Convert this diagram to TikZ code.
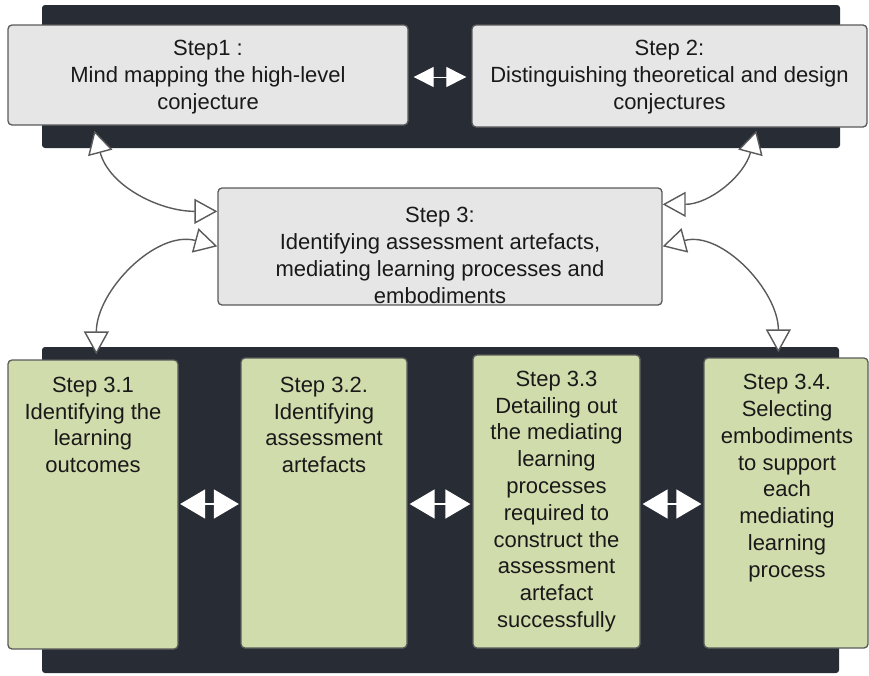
\documentclass[tikz,border=0pt]{standalone}
\usepackage{fontspec}
\setmainfont{Liberation Sans}
\usetikzlibrary{arrows.meta,calc}
\definecolor{darkbg}{HTML}{272C35}
\definecolor{boxgray}{HTML}{E6E6E6}
\definecolor{boxline}{HTML}{5A5A5A}
\definecolor{boxgreen}{HTML}{D1DCAD}
\tikzset{
  panel/.style={fill=darkbg, rounded corners=3pt},
  graybox/.style={draw=boxline, fill=boxgray, rounded corners=4pt, line width=1.3pt, inner sep=0pt},
  greenbox/.style={draw=boxline, fill=boxgreen, rounded corners=4pt, line width=1.3pt, inner sep=0pt},
  txt/.style={align=center, inner sep=0pt, text=black!90},
  curvearrow/.style={draw=boxline, line width=1.4pt,
    {Triangle[length=23pt,width=25pt,fill=white]}-{Triangle[length=23pt,width=25pt,fill=white]}},
  smallda/.style={draw=white, line width=1pt,
    {Triangle[length=20pt,width=20pt,fill=white]}-{Triangle[length=20pt,width=20pt,fill=white]}},
  bigda/.style={draw=white, line width=1.5pt,
    {Triangle[length=25pt,width=29pt,fill=white]}-{Triangle[length=25pt,width=29pt,fill=white]}}
}
\begin{document}
\begin{tikzpicture}[x=1pt,y=1pt, font=\fontsize{22}{26.8}\selectfont]
\useasboundingbox (0,0) rectangle (869,-675);
% dark panels
\fill[panel] (42,-5) rectangle (840,-148);
\fill[panel] (42,-347) rectangle (839,-673);
% top boxes
\node[graybox, minimum width=400pt, minimum height=100pt] (s1) at (208,-75) {};
\node[graybox, minimum width=395pt, minimum height=102pt] (s2) at (669.5,-76) {};
\node[txt] (t1) at (208,-77) {Step1 :\\Mind mapping the high-level\\conjecture};
\node[txt] (t2) at (669.5,-77) {Step 2:\\Distinguishing theoretical and design\\conjectures};
% step 3
\node[graybox, minimum width=444pt, minimum height=117pt] (s3) at (440,-246.5) {};
\node[txt] (t3) at (440,-255.5) {Step 3:\\Identifying assessment artefacts,\\mediating learning processes and\\embodiments};
% bottom boxes
\node[greenbox, minimum width=170pt, minimum height=289pt] (s31) at (93,-504.5) {};
\node[greenbox, minimum width=166pt, minimum height=290pt] (s32) at (324,-503) {};
\node[greenbox, minimum width=167pt, minimum height=293pt] (s33) at (556.5,-501.5) {};
\node[greenbox, minimum width=164pt, minimum height=290pt] (s34) at (786,-503) {};
\node[txt] (t31) at (93,-425) {Step 3.1\\Identifying the\\learning\\outcomes};
\node[txt] (t32) at (324,-425) {Step 3.2.\\Identifying\\assessment\\artefacts};
\node[txt] (t33) at (556.5,-501.5) {Step 3.3\\Detailing out\\the mediating\\learning\\processes\\required to\\construct the\\assessment\\artefact\\successfully};
\node[txt] (t34) at (787,-478) {Step 3.4.\\Selecting\\embodiments\\to support\\each\\mediating\\learning\\process};
% white double arrows
\draw[smallda, shorten <=5pt, shorten >=5pt] (s1.east |- 0,-77) -- (s2.west |- 0,-77);
\draw[bigda, shorten <=1.5pt, shorten >=1.5pt] (s31.east |- 0,-504) -- (s32.west |- 0,-504);
\draw[bigda, shorten <=2pt, shorten >=2pt] (s32.east |- 0,-504) -- (s33.west |- 0,-504);
\draw[bigda, shorten <=2pt, shorten >=2pt] (s33.east |- 0,-504) -- (s34.west |- 0,-504);
% curved arrows
\coordinate (a1) at ([xshift=87pt,yshift=-5pt]s1.south west);
\coordinate (a2) at ([xshift=285pt,yshift=-3pt]s2.south west);
\coordinate (b1) at ([yshift=-24pt]s3.north west);
\coordinate (b2) at ([yshift=-59pt]s3.north west);
\coordinate (c1) at ([yshift=-17pt]s3.north east);
\coordinate (c2) at ([yshift=-59pt]s3.north east);
\coordinate (d1) at ([xshift=89pt,yshift=5pt]s31.north west);
\coordinate (d2) at ([xshift=75pt,yshift=5pt]s34.north west);
\draw[curvearrow] (a1) to[out=-75,in=180] (b1);
\draw[curvearrow] (b2) to[out=165,in=90] (d1);
\draw[curvearrow] (a2) to[out=-105,in=0] (c1);
\draw[curvearrow] (c2) to[out=15,in=90] (d2);
\end{tikzpicture}
\end{document}
